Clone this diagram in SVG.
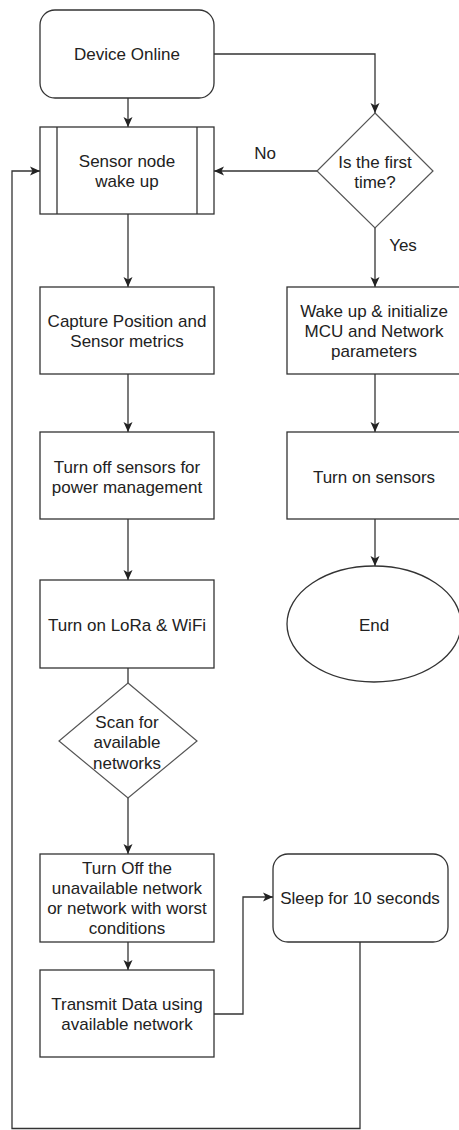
<svg xmlns="http://www.w3.org/2000/svg" width="459" height="1130" viewBox="0 0 459 1130">
  <defs>
    <marker id="arrow" markerUnits="userSpaceOnUse" markerWidth="12" markerHeight="10" refX="10" refY="5" orient="auto">
      <path d="M0,0.5 L10,5 L0,9.5 L2.5,5 Z" fill="#222"/>
    </marker>
    <style>
      .shape { fill: #fff; stroke: #333; stroke-width: 1.3; }
      .dia { fill: #fff; stroke: #555; stroke-width: 1.2; }
      .edge { fill: none; stroke: #333; stroke-width: 1.3; }
      .arr { marker-end: url(#arrow); }
      text { font-family: "Liberation Sans", Arial, Helvetica, sans-serif; font-size: 17px; fill: #222; text-anchor: middle; }
    </style>
  </defs>
  <rect width="459" height="1130" fill="#fff"/>

  <g id="connectors">
    <path class="edge arr" d="M128 98 V127"/>
    <path class="edge arr" d="M214 54 H375 V113"/>
    <path class="edge arr" d="M317 171 H214"/>
    <path class="edge arr" d="M128 214 V287"/>
    <path class="edge arr" d="M375 228 V287"/>
    <path class="edge arr" d="M128 374 V432"/>
    <path class="edge arr" d="M375 374 V432"/>
    <path class="edge arr" d="M128 519 V580"/>
    <path class="edge arr" d="M375 519 V566"/>
    <path class="edge" d="M128 668 V683"/>
    <path class="edge arr" d="M128 798 V854"/>
    <path class="edge arr" d="M128 942 V970"/>
    <path class="edge arr" d="M214 1014 H243 V897 H273"/>
    <path class="edge arr" d="M360 942 V1128.5 H12 V171 H40"/>
    <text x="265" y="159">No</text>
    <text x="403" y="251">Yes</text>
  </g>

  <g id="device-online">
    <rect class="shape" x="40" y="10" width="174" height="88" rx="15" ry="15"/>
    <text x="127" y="60">Device Online</text>
  </g>

  <g id="sensor-wake">
    <rect class="shape" x="40" y="127" width="174" height="87"/>
    <line class="shape" x1="57" y1="127" x2="57" y2="214"/>
    <line class="shape" x1="197" y1="127" x2="197" y2="214"/>
    <text x="127" y="167">Sensor node</text>
    <text x="127" y="187">wake up</text>
  </g>

  <g id="first-time">
    <polygon class="dia" points="375,113 433,171 375,228 317,171"/>
    <text x="375" y="168">Is the first</text>
    <text x="375" y="188">time?</text>
  </g>

  <g id="capture">
    <rect class="shape" x="40" y="287" width="174" height="87"/>
    <text x="127" y="327">Capture Position and</text>
    <text x="127" y="347">Sensor metrics</text>
  </g>

  <g id="wake-init">
    <rect class="shape" x="287" y="287" width="174" height="87"/>
    <text x="374" y="317">Wake up &amp; initialize</text>
    <text x="374" y="337">MCU and Network</text>
    <text x="374" y="357">parameters</text>
  </g>

  <g id="turn-off-sensors">
    <rect class="shape" x="40" y="432" width="174" height="87"/>
    <text x="127" y="473">Turn off sensors for</text>
    <text x="127" y="493">power management</text>
  </g>

  <g id="turn-on-sensors">
    <rect class="shape" x="287" y="432" width="174" height="87"/>
    <text x="374" y="483">Turn on sensors</text>
  </g>

  <g id="end">
    <ellipse class="shape" cx="374" cy="624" rx="87" ry="58"/>
    <text x="374" y="631">End</text>
  </g>

  <g id="lora-wifi">
    <rect class="shape" x="40" y="580" width="174" height="88"/>
    <text x="127" y="631">Turn on LoRa &amp; WiFi</text>
  </g>

  <g id="scan">
    <polygon class="dia" points="128,683 197,741 128,798 59,741"/>
    <text x="127" y="728">Scan for</text>
    <text x="127" y="748">available</text>
    <text x="127" y="769">networks</text>
  </g>

  <g id="turn-off-network">
    <rect class="shape" x="40" y="854" width="174" height="88"/>
    <text x="127" y="874">Turn Off the</text>
    <text x="127" y="894">unavailable network</text>
    <text x="127" y="914">or network with worst</text>
    <text x="127" y="934">conditions</text>
  </g>

  <g id="transmit">
    <rect class="shape" x="40" y="970" width="174" height="87"/>
    <text x="127" y="1010">Transmit Data using</text>
    <text x="127" y="1030">available network</text>
  </g>

  <g id="sleep">
    <rect class="shape" x="273" y="854" width="175" height="88" rx="15" ry="15"/>
    <text x="360" y="904">Sleep for 10 seconds</text>
  </g>
</svg>
